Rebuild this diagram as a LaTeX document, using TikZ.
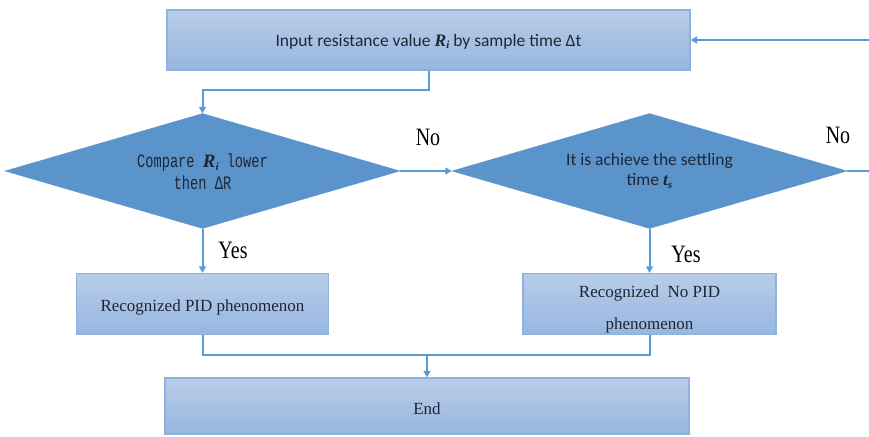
\documentclass[tikz,border=0pt]{standalone}
\usepackage{fontspec}
\setmainfont{Liberation Serif}
\newfontfamily\serfont{Liberation Serif}
\newfontfamily\calfont{Carlito}
\newfontfamily\monofont[FakeStretch=0.72]{Liberation Mono}
\newfontfamily\labfont[FakeStretch=0.8]{Liberation Serif}
\usetikzlibrary{shapes.geometric,arrows.meta}

\definecolor{linec}{HTML}{5B9BD5}
\definecolor{diamc}{HTML}{5B93CB}
\definecolor{boxtop}{HTML}{B8CDE9}
\definecolor{boxbot}{HTML}{97B6DF}
\definecolor{boxedge}{HTML}{8DB2E0}
\definecolor{txtc}{HTML}{1E2735}

% italic symbol with a lowered index, e.g. R_i
\newcommand\symidx[3]{{\serfont\bfseries\itshape #1\raisebox{-0.32ex}{\fontsize{#3}{#3}\selectfont #2}}}
% move text down inside its box without changing the box size
\newcommand\lowered[2]{\raisebox{-#1}[\height][\depth]{#2}}

\tikzset{
  procbox/.style={rectangle, draw=boxedge, line width=1.3pt,
    top color=boxtop, bottom color=boxbot, inner sep=0pt,
    text=txtc, align=center},
  decision/.style={diamond, fill=diamc, draw=diamc, inner sep=0pt,
    shape aspect=3.43, minimum width=395pt, minimum height=115pt,
    text=txtc, align=center},
  flow/.style={draw=linec, line width=2pt},
  arrowflow/.style={flow, -{Triangle[length=6.5pt,width=7pt]}},
  answer/.style={font=\labfont\fontsize{25}{28}\selectfont, text=black, inner sep=0pt}
}

\begin{document}
\begin{tikzpicture}[x=1pt,y=-1pt]
\useasboundingbox (0,0) rectangle (869,436);

% process boxes
\node[procbox, minimum width=523pt, minimum height=60pt,
      font=\calfont\fontsize{17.5}{21}\selectfont] (input) at (428.5,40)
  {\lowered{1.5pt}{Input resistance value \symidx{R}{i}{11} by sample time Δt}};
\node[procbox, minimum width=252pt, minimum height=61pt,
      font=\serfont\fontsize{17}{20}\selectfont] (pid) at (202.5,304)
  {\lowered{3pt}{Recognized PID phenomenon}};
\node[procbox, minimum width=253pt, minimum height=61pt,
      font=\serfont\fontsize{17}{20}\selectfont] (nopid) at (649.5,304)
  {\lowered{5pt}{\begin{tabular}{@{}c@{}}Recognized~ No PID\\[12pt]phenomenon\end{tabular}}};
\node[procbox, minimum width=524pt, minimum height=56pt,
      font=\serfont\fontsize{17}{20}\selectfont] (end) at (427,406)
  {\lowered{3pt}{End}};

% decisions
\node[decision, font=\monofont\fontsize{19}{22}\selectfont] (cmp) at (202.5,171)
  {\lowered{3pt}{\begin{tabular}{@{}c@{}}Compare \symidx{R}{i}{11} lower\\then ΔR\end{tabular}}};
\node[decision, font=\calfont\fontsize{17.5}{20}\selectfont] (settle) at (649.5,171)
  {It is achieve the settling\\time \symidx{t}{s}{11}};

% branch labels
\node[answer] (no1) at (428,137) {No};
\node[answer] (no2) at (838,135) {No};
\node[answer] (yes1) at (233,250) {Yes};
\node[answer] (yes2) at (686,254) {Yes};

% helper points
\coordinate (split) at (428.5,90);
\coordinate (loop) at (885,171);
\coordinate (merge) at (427,355);

% connectors
\draw[arrowflow] (input.south) -- (split) -| (cmp.north);
\draw[arrowflow] (cmp.east) -- (settle.west);
\draw[arrowflow] (settle.east) -- (loop) |- (input.east);
\draw[arrowflow] (cmp.south) -- (pid.north);
\draw[arrowflow] (settle.south) -- (nopid.north);
\draw[flow] (pid.south) |- (merge) -| (nopid.south);
\draw[arrowflow] (merge) -- (end.north);
\end{tikzpicture}
\end{document}
